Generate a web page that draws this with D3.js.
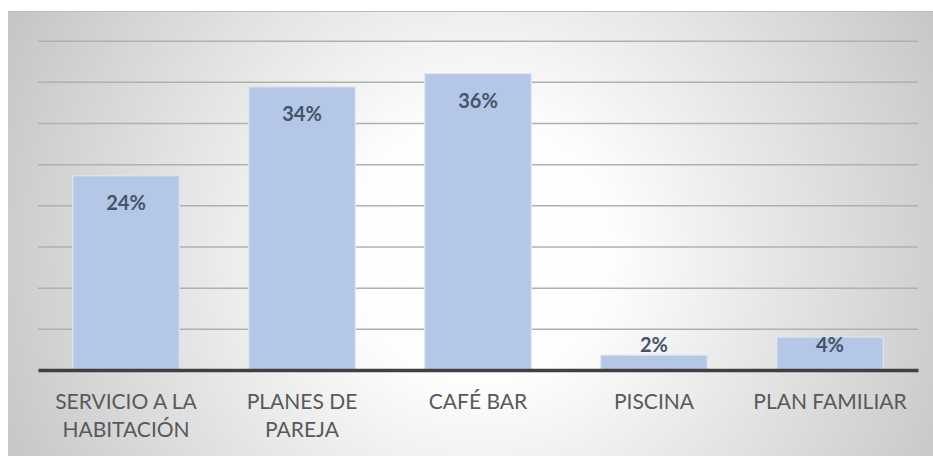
<!DOCTYPE html>
<html>
<head>
<meta charset="utf-8">
<script src="https://cdn.jsdelivr.net/npm/d3@7"></script>
<style>
  html, body { margin: 0; padding: 0; background: #ffffff; }
  svg { display: block; }
</style>
</head>
<body>
<svg id="chart" width="933" height="456"></svg>
<script>
const categories = ["SERVICIO A LA HABITACIÓN", "PLANES DE PAREJA", "CAFÉ BAR", "PISCINA", "PLAN FAMILIAR"];
const values = [0.236, 0.344, 0.36, 0.018, 0.04];
const gridTicks = [0.05, 0.10, 0.15, 0.20, 0.25, 0.30, 0.35, 0.40];

const W = 933, H = 456;
const plot = { left: 38, right: 918, top: 40.7, bottom: 370 };

const svg = d3.select("#chart");
const defs = svg.append("defs");
const grad = defs.append("radialGradient")
  .attr("id", "bg").attr("gradientUnits", "userSpaceOnUse")
  .attr("cx", 480).attr("cy", 250).attr("r", 540);
grad.append("stop").attr("offset", 0).attr("stop-color", "#ffffff");
grad.append("stop").attr("offset", 0.25).attr("stop-color", "#fdfdfd");
grad.append("stop").attr("offset", 1).attr("stop-color", "#c3c3c3");

svg.append("rect").attr("x", 8).attr("y", 11.5).attr("width", W - 8).attr("height", H - 11.5)
  .attr("fill", "url(#bg)");
svg.append("line").attr("x1", 8).attr("x2", W).attr("y1", 11.5).attr("y2", 11.5)
  .attr("stroke", "#bdbdbd").attr("stroke-width", 1);

const x = d3.scaleBand().domain(categories).range([plot.left, plot.right])
  .paddingInner(0.395).paddingOuter(0.1975);
const y = d3.scaleLinear().domain([0, 0.40]).range([plot.bottom, plot.top]);

// gridlines
const grid = svg.append("g").attr("transform", `translate(${plot.left},0)`)
  .call(d3.axisLeft(y).tickValues(gridTicks).tickSize(-(plot.right - plot.left)).tickFormat(""));
grid.select(".domain").remove();
grid.selectAll(".tick line").attr("stroke", "#b0b0b0").attr("stroke-width", 1.5);

// bars
svg.append("g").selectAll("rect").data(values).join("rect")
  .attr("x", (d, i) => x(categories[i]))
  .attr("y", d => y(d))
  .attr("width", x.bandwidth())
  .attr("height", d => y(0) - y(d))
  .attr("fill", "#b4c7e7")
  .attr("stroke", "#dce5f4").attr("stroke-width", 1.2);

// data labels
const fmt = d3.format(".0%");
svg.append("g").selectAll("text").data(values).join("text")
  .attr("x", (d, i) => x(categories[i]) + x.bandwidth() / 2)
  .attr("y", d => Math.min(y(d) + 34.5, y(0) - 18))
  .attr("text-anchor", "middle")
  .attr("font-family", "Lato, sans-serif").attr("font-weight", "bold")
  .attr("font-size", 20).attr("fill", "#44546a")
  .text(d => fmt(d));

// x axis
const xAxis = svg.append("g").attr("transform", `translate(0,${plot.bottom})`)
  .call(d3.axisBottom(x).tickSize(0).tickFormat(""));
xAxis.select(".domain").attr("stroke", "#404040").attr("stroke-width", 3.5);

// category labels with wrapping to band width
const labels = svg.append("g").selectAll("text").data(categories).join("text")
  .attr("text-anchor", "middle")
  .attr("font-family", "Lato, sans-serif").attr("font-size", 21)
  .attr("fill", "#595959");
labels.each(function (c) {
  const t = d3.select(this);
  const cx = x(c) + x.bandwidth() / 2;
  const words = c.split(" ");
  let lines = [], cur = [];
  const maxW = x.step() - 6;
  const probe = t.append("tspan");
  words.forEach(w => {
    const test = cur.concat(w).join(" ");
    probe.text(test);
    if (probe.node().getComputedTextLength() > maxW && cur.length) {
      lines.push(cur.join(" "));
      cur = [w];
    } else cur.push(w);
  });
  lines.push(cur.join(" "));
  probe.remove();
  lines.forEach((l, i) => {
    t.append("tspan").attr("x", cx).attr("y", 409.3 + i * 27.4).text(l);
  });
});
</script>
</body>
</html>
